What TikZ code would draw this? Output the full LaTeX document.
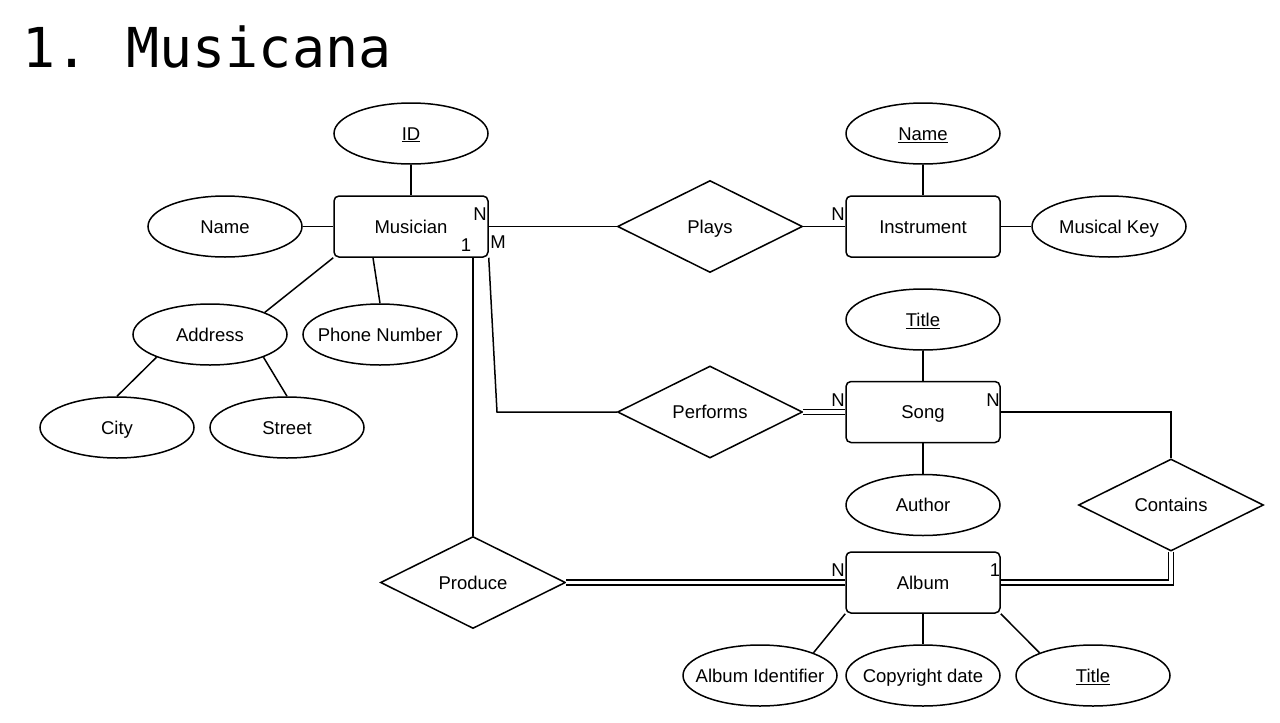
\documentclass[tikz,border=0pt]{standalone}
\usepackage{fontspec}
\setmainfont{Liberation Sans}
\newfontfamily\titlefont{DejaVu Sans Mono}
\usetikzlibrary{shapes.geometric}
\newcommand\zb[1]{\makebox[0pt]{#1}}
\begin{document}
\begin{tikzpicture}[x=1pt,y=-1pt,
  every node/.style={font=\fontsize{18.5}{22}\selectfont},
  box/.style={draw,line width=1.5pt,inner sep=0pt,text height=13.3pt,text depth=0pt},
  ent/.style={box,rounded corners=5pt,minimum width=154pt,minimum height=61pt},
  attr/.style={box,ellipse,minimum width=154pt,minimum height=61pt},
  rel/.style={box,diamond,aspect=2,minimum width=185pt,minimum height=92pt},
  card/.style={inner sep=0pt,text height=13.3pt,text depth=0pt},
  ln/.style={line width=1.5pt},
  dbl/.style={line width=1.4pt,double,double distance=3.6pt}]
\path[use as bounding box,fill=white] (0,0) rectangle (1280,723);
\node[anchor=base west,inner sep=0pt,font=\titlefont\fontsize{55}{60}\selectfont] (title) at (22,67) {1.\hspace{-6pt} Musicana};
% entities
\node[ent] (mus) at (411,226.5) {Musician};
\node[ent] (ins) at (923,226.5) {Instrument};
\node[ent] (song) at (923,412) {Song};
\node[ent] (alb) at (923,582.5) {Album};
% attributes
\node[attr] (id) at (411,133.5) {\zb{\underline{ID}}};
\node[attr] (mname) at (225,226.5) {\zb{Name}};
\node[attr] (addr) at (210,334.5) {\zb{Address}};
\node[attr] (phone) at (380,334.5) {\zb{Phone Number}};
\node[attr] (city) at (117,427.5) {\zb{City}};
\node[attr] (street) at (287,427.5) {\zb{Street}};
\node[attr] (iname) at (923,133.5) {\zb{\underline{Name}}};
\node[attr] (key) at (1109,226.5) {\zb{Musical Key}};
\node[attr] (stitle) at (923,319.5) {\zb{\underline{Title}}};
\node[attr] (author) at (923,505) {\zb{Author}};
\node[attr] (aid) at (760,675.5) {\zb{Album Identifier}};
\node[attr] (copy) at (923,675.5) {\zb{Copyright date}};
\node[attr] (atitle) at (1093,675.5) {\zb{\underline{Title}}};
% relationships
\node[rel] (plays) at (710,226.5) {\zb{Plays}};
\node[rel] (perf) at (710,412) {\zb{Performs}};
\node[rel] (cont) at (1171,505) {\zb{Contains}};
\node[rel] (prod) at (473,582.5) {\zb{Produce}};
% attribute links
\draw[ln] (id) -- (mus);
\draw[ln] (mname) -- (mus);
\draw[ln] (addr.22) -- (mus.south west);
\draw[ln] (phone.north) -- ([xshift=-38pt]mus.south);
\draw[ln] (city.north) -- (addr.203);
\draw[ln] (street.north) -- (addr.337);
\draw[ln] (iname) -- (ins);
\draw[ln] (ins) -- (key);
\draw[ln] (stitle) -- (song);
\draw[ln] (song) -- (author);
\draw[ln] (alb.south west) -- (aid.23);
\draw[ln] (alb) -- (copy);
\draw[ln] (alb.south east) -- (atitle.157);
% relationship links
\draw[ln] (mus.east) -- (plays.west);
\draw[ln] (plays.east) -- (ins.west);
\coordinate (pb) at (497,412);
\draw[ln] (mus.south east) -- (pb) -- (perf.west);
\draw[dbl] (perf.east) -- (song.west);
\draw[ln] (song.east) -- (cont.north |- song.east) -- (cont.north);
\draw[dbl] (cont.south) -- (cont.south |- alb.east) -- (alb.east);
\draw[ln] (prod.north) -- (prod.north |- mus.south);
\draw[dbl] (prod.east) -- (alb.west);
% cardinalities
\node[card] (c1) at (480,214) {N};
\node[card] (c2) at (498,242) {M};
\node[card] (c3) at (466,245) {1};
\node[card] (c4) at (838,214) {N};
\node[card] (c5) at (838,400) {N};
\node[card] (c6) at (993,400) {N};
\node[card] (c7) at (838,570) {N};
\node[card] (c8) at (995,570) {1};
\end{tikzpicture}
\end{document}
